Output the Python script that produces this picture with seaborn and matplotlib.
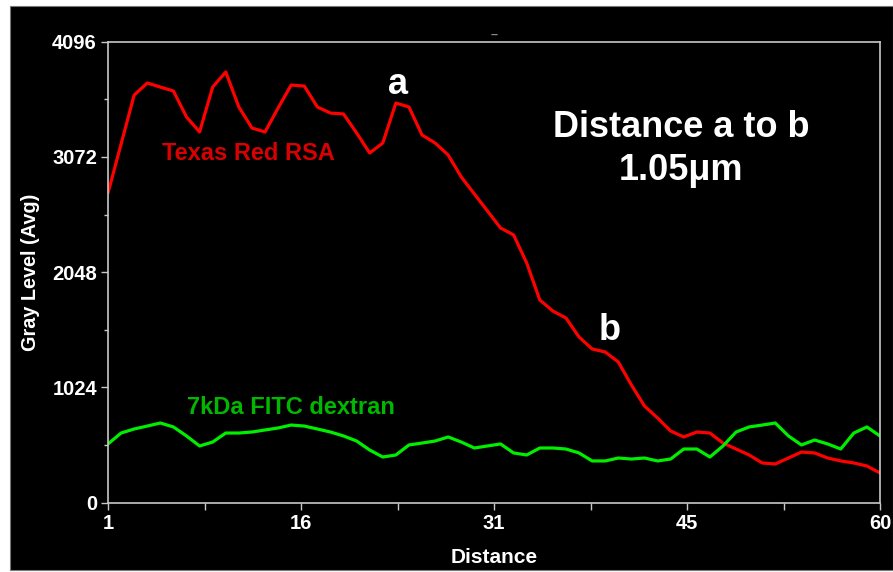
import numpy as np
import pandas as pd
import matplotlib
matplotlib.use("Agg")
import matplotlib.pyplot as plt
from matplotlib.patches import Rectangle
import seaborn as sns

# Line profile along the scan (distance in pixels, 1..60)
distance = list(range(1, 61))

texas_red_rsa = [
    2752, 3187, 3622, 3729, 3693, 3658, 3427, 3294, 3693, 3827,
    3516, 3329, 3294, 3507, 3711, 3702, 3516, 3462, 3454, 3285,
    3107, 3196, 3551, 3516, 3267, 3196, 3089, 2894, 2743, 2592,
    2441, 2379, 2130, 1801, 1703, 1641, 1472, 1366, 1339, 1250,
    1046, 859, 753, 637, 584, 628, 619, 530, 477, 424,
    353, 344, 397, 450, 442, 397, 371, 353, 326, 264,
]

fitc_dextran = [
    522, 619, 655, 681, 708, 673, 593, 504, 539, 619,
    619, 628, 646, 664, 690, 681, 655, 628, 593, 548,
    468, 406, 424, 513, 530, 548, 584, 539, 486, 504,
    522, 442, 424, 486, 486, 477, 442, 371, 371, 397,
    388, 397, 371, 388, 477, 477, 406, 504, 628, 673,
    690, 708, 593, 513, 557, 522, 477, 619, 673, 593,
]

series_names = ["Texas Red RSA", "7kDa FITC dextran"]
line_colors = {"Texas Red RSA": "#ff0000", "7kDa FITC dextran": "#00ee00"}

y_ticks = [0, 1024, 2048, 3072, 4096]
y_minor = [512, 1536, 2560, 3584]
x_ticks = list(np.linspace(1, 60, 9))
x_tick_labels = ["1", "", "16", "", "31", "", "45", "", "60"]

df = pd.concat([
    pd.DataFrame({"Distance": distance, "Gray": texas_red_rsa, "Probe": series_names[0]}),
    pd.DataFrame({"Distance": distance, "Gray": fitc_dextran, "Probe": series_names[1]}),
])

sns.set_style("dark")
plt.rcParams["font.family"] = ["Liberation Sans", "DejaVu Sans"]
plt.rcParams["font.weight"] = "bold"

W, H = 893, 572
fig = plt.figure(figsize=(W / 100, H / 100), dpi=100, facecolor="white")
# black panel behind the plot
fig.add_artist(Rectangle((10 / W, 2 / H), (W - 10) / W, (H - 8) / H,
                         transform=fig.transFigure, facecolor="black",
                         edgecolor="#777777", linewidth=0.8, zorder=0))

ax = fig.add_axes([108 / W, 69.3 / H, 772 / W, 461 / H])
ax.set_facecolor("black")

sns.lineplot(data=df, x="Distance", y="Gray", hue="Probe", palette=line_colors,
             linewidth=2.3, legend=False, ax=ax)

ax.set_xlim(1, 60)
ax.set_ylim(0, 4096)
ax.grid(False)

ax.set_yticks(y_ticks)
ax.set_yticklabels([str(v) for v in y_ticks])
ax.set_yticks(y_minor, minor=True)
ax.set_xticks(x_ticks)
ax.set_xticklabels(x_tick_labels)

spine_color = "#c8c8c8"
for s in ax.spines.values():
    s.set_visible(True)
    s.set_color(spine_color)
    s.set_linewidth(1.2)

ax.tick_params(axis="both", which="major", direction="out", length=5, width=1,
               color=spine_color, labelcolor="white", labelsize=14.5, pad=3,
               bottom=True, left=True)
ax.tick_params(axis="y", which="minor", direction="out", length=3, width=1,
               color=spine_color, left=True)
for lab in ax.get_xticklabels() + ax.get_yticklabels():
    lab.set_fontweight("bold")

ax.set_xlabel("Distance", color="white", fontsize=15, fontweight="bold", labelpad=11)
ax.set_ylabel("Gray Level (Avg)", color="white", fontsize=14.3, fontweight="bold", labelpad=9)


def fig_px(x, y):
    return x / W, 1 - y / H


# series labels
fig.text(*fig_px(248, 153), "Texas Red RSA", color="#d80000", fontsize=17,
         fontweight="bold", ha="center", va="center")
fig.text(*fig_px(291, 408), "7kDa FITC dextran", color="#00b800", fontsize=17,
         fontweight="bold", ha="center", va="center")

# end points of the measured distance
fig.text(*fig_px(398, 84), "a", color="white", fontsize=26, fontweight="bold",
         ha="center", va="center")
fig.text(*fig_px(610, 330), "b", color="white", fontsize=26, fontweight="bold",
         ha="center", va="center")

fig.text(*fig_px(681, 127), "Distance a to b", color="white", fontsize=26,
         fontweight="bold", ha="center", va="center")
fig.text(*fig_px(681, 170), "1.05\u03bcm", color="white", fontsize=26,
         fontweight="bold", ha="center", va="center")

fig.text(*fig_px(494, 35), "\u2013", color="#888888", fontsize=9, ha="center", va="center")

fig.savefig("out.png", dpi=100, facecolor=fig.get_facecolor())
